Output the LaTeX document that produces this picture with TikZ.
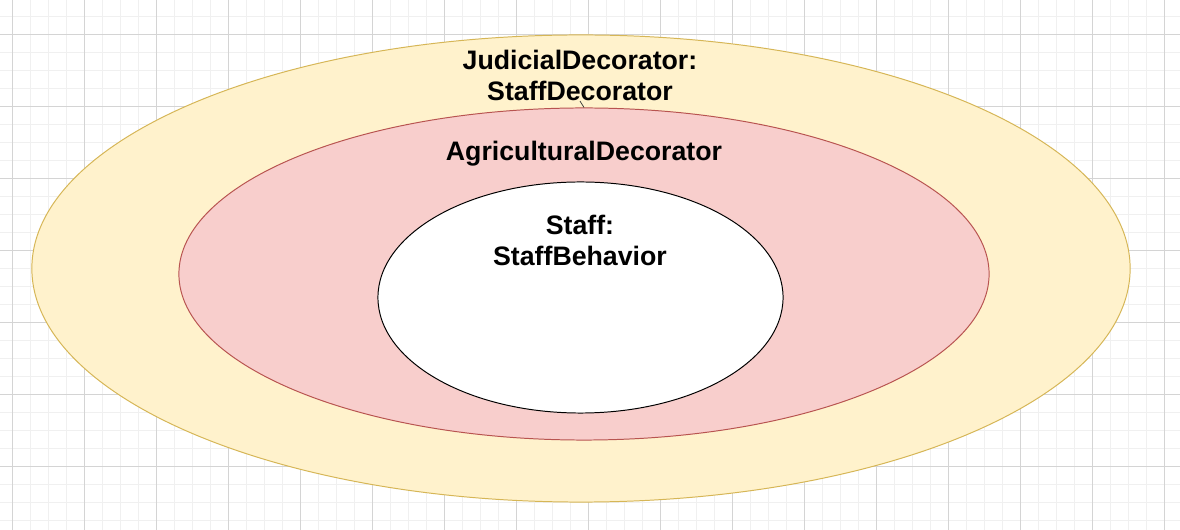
\documentclass[tikz,border=0pt]{standalone}
\usepackage{fontspec}
\setmainfont{Liberation Sans}
\usetikzlibrary{shapes.geometric}
\definecolor{gridminor}{HTML}{F0F0F0}
\definecolor{gridmajor}{HTML}{D4D4D4}
\definecolor{yellowfill}{HTML}{FFF2CC}
\definecolor{yellowline}{HTML}{D6B656}
\definecolor{redfill}{HTML}{F8CECC}
\definecolor{redline}{HTML}{B85450}
\begin{document}
\begin{tikzpicture}[x=0.025cm,y=-0.025cm,
    layer/.style={ellipse,draw,line width=0.7pt,inner sep=0pt},
    label/.style={font=\fontsize{19}{22}\selectfont\bfseries,align=center,inner sep=0pt}]
    \useasboundingbox (0,0) rectangle (1180,530);
    \fill[white] (0,0) rectangle (1180,530);
    % grid
    \foreach \x in {12,30,...,1180} \draw[gridminor,line width=0.7pt] (\x,0) -- (\x,530);
    \foreach \y in {16,34,...,530} \draw[gridminor,line width=0.7pt] (0,\y) -- (1180,\y);
    \foreach \x in {12,84,...,1180} \draw[gridmajor,line width=0.7pt] (\x,0) -- (\x,530);
    \foreach \y in {34,106,...,530} \draw[gridmajor,line width=0.7pt] (0,\y) -- (1180,\y);
    % layers
    \node[layer,draw=yellowline,fill=yellowfill,minimum width=27.45cm,minimum height=11.675cm] (judicial) at (581,268.5) {};
    \node[layer,draw=redline,fill=redfill,minimum width=20.25cm,minimum height=8.3cm] (agricultural) at (584,274) {};
    \node[layer,draw=black,fill=white,minimum width=10.125cm,minimum height=5.775cm] (staff) at (580.5,297.5) {};
    % labels
    \node[label] (judiciallabel) at (580,75.5) {JudicialDecorator:\\StaffDecorator};
    \node[label,anchor=base] (agriculturallabel) at (584,161) {AgriculturalDecorator};
    \node[label] (stafflabel) at (580,240) {Staff:\\StaffBehavior};
    \draw[black!80,line width=0.5pt] (judiciallabel.south) -- (agricultural.north);
\end{tikzpicture}
\end{document}
